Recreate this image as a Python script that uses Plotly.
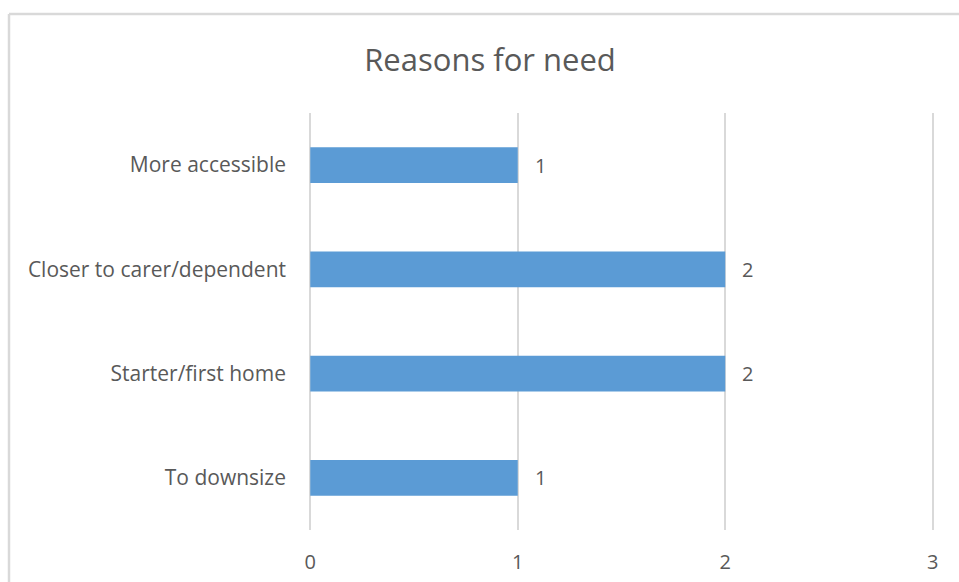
import plotly.graph_objects as go

categories = ["To downsize", "Starter/first home", "Closer to carer/dependent", "More accessible"]
counts = [1, 2, 2, 1]
x_ticks = [0, 1, 2, 3]

TEXT = "#595959"
GRID = "#D9D9D9"
BAR = "#5B9BD5"
FONT = "Open Sans"

fig = go.Figure()
fig.add_trace(go.Bar(
    y=categories,
    x=counts,
    orientation="h",
    marker=dict(color=BAR, line=dict(width=0)),
    hoverinfo="x+y",
))

# value labels to the right of each bar
for cat, val in zip(categories, counts):
    fig.add_annotation(
        x=val, y=cat, text=str(val), showarrow=False,
        xanchor="left", xshift=15, font=dict(family=FONT, size=20, color=TEXT),
    )

fig.update_layout(
    width=959, height=582,
    margin=dict(l=309, r=25, t=113, b=52),
    paper_bgcolor="white", plot_bgcolor="white",
    bargap=0.655,
    showlegend=False,
    title=dict(text="Reasons for need", x=490 / 959, xanchor="center", xref="container",
               y=1 - 60 / 582, yanchor="middle", yref="container",
               font=dict(family=FONT, size=31, color=TEXT)),
    xaxis=dict(range=[-0.006, 3.006], tickvals=x_ticks, showgrid=True, gridcolor=GRID, gridwidth=2,
               zeroline=False, showline=False, ticks="", ticklabelstandoff=18, automargin=False,
               tickfont=dict(family=FONT, size=20, color=TEXT)),
    yaxis=dict(showgrid=False, zeroline=False, showline=False, ticks="",
               ticklabelstandoff=22, automargin=False,
               tickfont=dict(family=FONT, size=21, color=TEXT)),
)

# chart frame: top and left edges, positioned in pixels relative to the plot area
left = -(309 - 9) / 625
top = (530 - 14) / 417
fig.add_shape(type="line", xref="paper", yref="paper",
              x0=left, x1=left, y0=-0.2, y1=top,
              line=dict(color=GRID, width=2.5))
fig.add_shape(type="line", xref="paper", yref="paper",
              x0=left, x1=1.2, y0=top, y1=top,
              line=dict(color=GRID, width=2.5))

fig.write_html("out.html")
